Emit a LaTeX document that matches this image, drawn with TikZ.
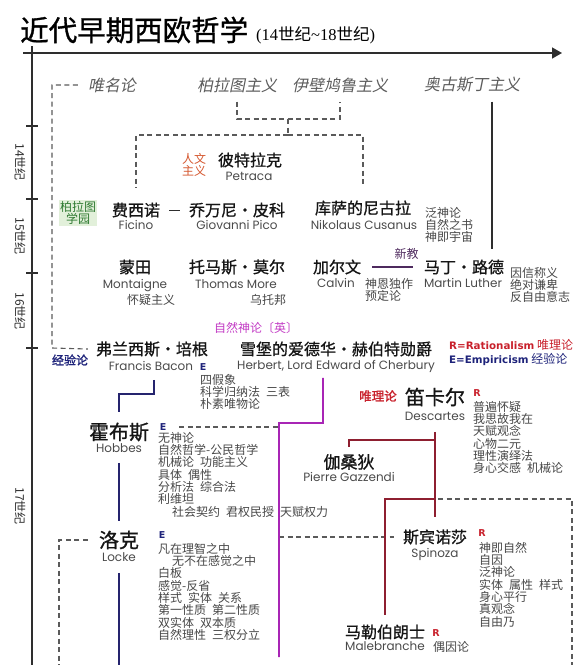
\documentclass[tikz,border=0pt]{standalone}
\usepackage{fontspec}
\usepackage{xcolor}
\definecolor{AxisGray}{HTML}{2E2E2E}
\definecolor{SchoolGray}{HTML}{5C5C5C}
\definecolor{NameBlack}{HTML}{151515}
\definecolor{EnGray}{HTML}{4A4A4A}
\definecolor{NoteGray}{HTML}{474747}
\definecolor{DashGray}{HTML}{5A5A5A}
\definecolor{HumanRed}{HTML}{D4562E}
\definecolor{AcadGreen}{HTML}{2E7A30}
\definecolor{AcadFill}{HTML}{E2F0DA}
\definecolor{ProtPurple}{HTML}{4E2A5E}
\definecolor{DeistMagenta}{HTML}{C23BC4}
\definecolor{MagLine}{HTML}{A825B5}
\definecolor{EmpNavy}{HTML}{1E237A}
\definecolor{NavyLine}{HTML}{25246E}
\definecolor{RatRed}{HTML}{C8202B}
\definecolor{RedLine}{HTML}{8E1F30}
\newfontfamily\cjk{Noto Sans CJK SC}
\newfontfamily\cjkname[FakeBold=0.9]{Noto Sans CJK SC}
\newfontfamily\cjktitle[FakeBold=1.1]{Noto Sans CJK SC}
\newfontfamily\cjkbold[FakeBold=1.6]{Noto Sans CJK SC}
\newfontfamily\cjkit[FakeSlant=0.2]{Noto Sans CJK SC}
\newfontfamily\latin{Poppins}
\newfontfamily\legendfont{DejaVu Sans}
\newfontfamily\serif{Liberation Serif}
\newcommand{\wgap}{\hspace{0.5em}}
\usepackage{tikz}
\usetikzlibrary{arrows.meta,calc}
\tikzset{
  zhname/.style={font=\cjkname\fontsize{16}{16}\selectfont,text=NameBlack,inner sep=1pt},
  zhbig/.style={zhname,font=\cjkname\fontsize{20}{20}\selectfont},
  enname/.style={font=\latin\fontsize{12}{12}\selectfont,text=EnGray,inner sep=1pt,text height=9pt,text depth=2.5pt},
  notes/.style={font=\cjk\fontsize{12}{12.3}\selectfont,text=NoteGray,align=left,inner sep=0pt,anchor=north west},
  school/.style={font=\cjkit\fontsize{16}{16}\selectfont,text=SchoolGray,inner sep=1pt},
  century/.style={font=\cjk\fontsize{12}{12}\selectfont,text=AxisGray,rotate=-90,inner sep=1pt},
  smalltag/.style={font=\cjk\fontsize{12}{12.5}\selectfont,align=center,inner sep=1pt},
  etag/.style={font=\legendfont\bfseries\fontsize{9.5}{9.5}\selectfont,text=EmpNavy,inner sep=1pt},
  rtag/.style={etag,text=RatRed},
  legend/.style={font=\cjk\fontsize{12}{12}\selectfont,anchor=west,inner sep=0pt},
  axisline/.style={draw=AxisGray,line width=1.6pt},
  gdash/.style={draw=DashGray,line width=1.1pt,dash pattern=on 5pt off 3.5pt},
  blackflow/.style={draw=AxisGray,line width=1.4pt},
  purpleflow/.style={draw=ProtPurple,line width=1.5pt},
  navyflow/.style={draw=NavyLine,line width=2pt},
  magflow/.style={draw=MagLine,line width=1.8pt},
  redflow/.style={draw=RedLine,line width=2pt}
}
\begin{document}
\begin{tikzpicture}[x=1pt,y=-1pt]
  \useasboundingbox (0,0) rectangle (580,665);

  % title and time axis
  \node[anchor=west,inner sep=0pt,font=\cjktitle\fontsize{28.5}{28.5}\selectfont] (title) at (20,30) {近代早期西欧哲学};
  \node[anchor=west,inner sep=0pt,font=\serif\fontsize{16.5}{16.5}\selectfont] (subtitle) at (256,35) {(14{\cjk 世纪}\textasciitilde 18{\cjk 世纪})};
  \coordinate (axl) at (23,53);
  \coordinate (axr) at (562,53);
  \coordinate (axtop) at (32,46);
  \coordinate (axbot) at (32,665);
  \draw[axisline,-{Triangle[length=10pt,width=11pt]}] (axl) -- (axr);
  \draw[axisline] (axtop) -- (axbot);
  \foreach \yy in {126,199,273,348}
    \draw[axisline] (26,\yy) -- (38,\yy);
  \foreach \yy/\cc in {162/14,236/15,311/16,506/17}
    \node[century] (c\cc) at (20,\yy) {\cc 世纪};

  % schools
  \node[school] (nominal) at (112,85) {唯名论};
  \node[school] (plato) at (237,85) {柏拉图主义};
  \node[school] (epicurus) at (340,85) {伊壁鸠鲁主义};
  \node[school] (augustine) at (472,85) {奥古斯丁主义};

  % 14th-16th century
  \node[zhname] (petrarca) at (250,160) {彼特拉克};
  \node[enname] (petrarcaen) at (249,177) {Petraca};
  \node[smalltag,text=HumanRed] (humanism) at (194,165) {人文\\主义};
  \node[smalltag,text=AcadGreen,fill=AcadFill] (academy) at (78,213) {柏拉图\\学园};
  \node[zhname] (ficino) at (136,210) {费西诺};
  \node[enname] (ficinoen) at (136,226) {Ficino};
  \node[zhname] (pico) at (237,210) {乔万尼・皮科};
  \node[enname] (picoen) at (237,226) {Giovanni Pico};
  \node[zhname] (cusanus) at (363,208) {库萨的尼古拉};
  \node[enname] (cusanusen) at (364,226) {Nikolaus Cusanus};
  \node[notes] (cusanusnt) at (425,207) {泛神论\\自然之书\\神即宇宙};
  \node[zhname] (montaigne) at (135,267) {蒙田};
  \node[enname] (montaigneen) at (135,285) {Montaigne};
  \node[notes,anchor=center] (montaignent) at (151,300) {怀疑主义};
  \node[zhname] (more) at (237,267) {托马斯・莫尔};
  \node[enname] (moreen) at (236,285) {Thomas More};
  \node[notes,anchor=center] (morent) at (268,300) {乌托邦};
  \node[zhname] (calvin) at (337,267) {加尔文};
  \node[enname] (calvinen) at (336,284) {Calvin};
  \node[notes] (calvinnt) at (365,278) {神恩独作\\预定论};
  \node[zhname] (luther) at (464,267) {马丁・路德};
  \node[enname] (lutheren) at (463,284) {Martin Luther};
  \node[notes] (luthernt) at (510,267) {因信称义\\绝对谦卑\\反自由意志};

  % 17th century
  \node[smalltag,text=DeistMagenta] (deism) at (256,328) {自然神论〔英〕};
  \node[smalltag,font=\cjkbold\fontsize{12}{12}\selectfont,text=EmpNavy] (empirical) at (70,360) {经验论};
  \node[legend,text=RatRed] (legendr) at (449,345) {{\legendfont\bfseries\fontsize{10.3}{10.3}\selectfont R=Rationalism} 唯理论};
  \node[legend,text=EmpNavy] (legende) at (449,359) {{\legendfont\bfseries\fontsize{10.3}{10.3}\selectfont E=Empiricism} 经验论};
  \node[zhname] (bacon) at (152,349) {弗兰西斯・培根};
  \node[enname] (baconen) at (151,367) {Francis Bacon};
  \node[etag] (bacone) at (203,367) {E};
  \node[notes] (baconnt) at (200,374) {四假象\\科学归纳法\wgap 三表\\朴素唯物论};
  \node[zhname] (herbert) at (336,349) {雪堡的爱德华・赫伯特勋爵};
  \node[enname] (herberten) at (336,366) {Herbert, Lord Edward of Cherbury};
  \node[zhbig] (hobbes) at (119,432) {霍布斯};
  \node[enname] (hobbesen) at (119,449) {Hobbes};
  \node[etag] (hobbese) at (163,427) {E};
  \node[notes] (hobbesnt) at (158,432) {无神论\\自然哲学-公民哲学\\机械论\wgap 功能主义\\具体\wgap 偶性\\分析法\wgap 综合法\\利维坦\\\hspace*{14pt}社会契约\wgap 君权民授\wgap 天赋权力};
  \node[smalltag,font=\cjkbold\fontsize{12.5}{12.5}\selectfont,text=RatRed] (rational) at (378,396) {唯理论};
  \node[zhbig] (descartes) at (435,397) {笛卡尔};
  \node[enname] (descartesen) at (435,417) {Descartes};
  \node[rtag] (descartesr) at (477,393) {R};
  \node[notes] (descartesnt) at (473,401) {普遍怀疑\\我思故我在\\天赋观念\\心物二元\\理性演绎法\\身心交感\wgap 机械论};
  \node[zhname,font=\cjkname\fontsize{17}{17}\selectfont] (gassendi) at (349,462) {伽桑狄};
  \node[enname] (gassendien) at (349,478) {Pierre Gazzendi};
  \node[zhbig] (locke) at (119,540) {洛克};
  \node[enname] (lockeen) at (119,558) {Locke};
  \node[etag] (lockee) at (162,535) {E};
  \node[notes] (lockent) at (158,543) {凡在理智之中\\\hspace*{14pt}无不在感觉之中\\白板\\感觉-反省\\样式\wgap 实体\wgap 关系\\第一性质\wgap 第二性质\\双实体\wgap 双本质\\自然理性\wgap 三权分立};
  \node[zhname] (spinoza) at (435,537) {斯宾诺莎};
  \node[enname] (spinozaen) at (435,554) {Spinoza};
  \node[rtag] (spinozar) at (482,533) {R};
  \node[notes] (spinozant) at (479,542) {神即自然\\自因\\泛神论\\实体\wgap 属性\wgap 样式\\身心平行\\真观念\\自由乃};
  \node[zhname] (malebranche) at (385,632) {马勒伯朗士};
  \node[enname] (malebrancheen) at (385,647) {Malebranche};
  \node[rtag] (malebranchr) at (436,633) {R};
  \node[notes,anchor=west] (malebranchent) at (433,647) {偶因论};

  % helper points
  \coordinate (nomcorner) at (52,348);
  \coordinate (jn1) at (288,119);
  \coordinate (jn2) at (288,135);
  \coordinate (magknee) at (279,423);
  \coordinate (magend) at (279,657);
  \coordinate (lockeend) at (119,665);
  \coordinate (lockedash) at (59,665);
  \coordinate (rightdash) at (572,665);

  % dashed lineage
  \draw[gdash] ([xshift=-9pt]nominal.west) -| (nomcorner) -- ([xshift=-7pt]bacon.west);
  \draw[gdash] ([yshift=-8pt]plato.south) |- (jn1) -| ([yshift=-8pt]epicurus.south);
  \draw[gdash] (jn1) -- (jn2);
  \draw[gdash] (jn2) -| ([yshift=14pt]ficino.north);
  \draw[gdash] (jn2) -| ([yshift=12pt]cusanus.north);
  \draw[gdash] ([xshift=12pt]hobbese.east) -- (hobbese -| magknee);
  \draw[gdash] (spinoza -| magknee) -- ([xshift=-8pt]spinoza.west);
  \draw[gdash] ([xshift=-10pt]locke.west) -| (lockedash);
  \draw[gdash] ([xshift=3pt,yshift=-75pt]descartesen.south) -| (rightdash);

  % solid lineage
  \draw[blackflow] ([xshift=20pt,yshift=-8pt]augustine.south) -- ([xshift=28pt,yshift=9pt]luther.north);
  \draw[blackflow,line width=1pt,shorten <=8pt,shorten >=8pt] (ficino.east) -- (pico.west);
  \draw[purpleflow] ([xshift=10pt]calvin.east) -- ([xshift=-10pt]luther.west)
    node[pos=0.85,above=3pt,font=\cjk\fontsize{12}{12}\selectfont,text=ProtPurple] {新教};
  \draw[navyflow] ([xshift=3pt,yshift=-6pt]baconen.south) -- ++(0,14) -| ([yshift=9pt]hobbes.north);
  \draw[navyflow] ([yshift=-7pt]hobbesen.south) -- ([yshift=9pt]locke.north);
  \draw[navyflow] ([yshift=-8pt]lockeen.south) -- (lockeend);
  \draw[magflow] ([xshift=-13pt,yshift=-5pt]herberten.south) -- ++(0,45) -- (magknee) -- (magend);
  \draw[redflow] ([yshift=-8pt]descartesen.south) -- ([yshift=11pt]spinoza.north);
  \draw[redflow] ([yshift=-16pt]descartesen.south) -| ([yshift=6pt]gassendi.north);
  \draw[redflow] ([yshift=-75pt]descartesen.south) -| ([yshift=8pt]malebranche.north);
\end{tikzpicture}
\end{document}
